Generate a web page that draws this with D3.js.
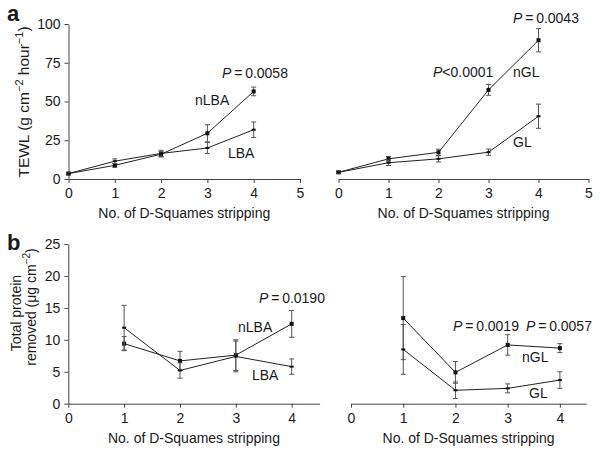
<!DOCTYPE html>
<html><head><meta charset="utf-8">
<script src="https://cdn.jsdelivr.net/npm/d3@7"></script>
<style>
body{margin:0;background:#fff;}
svg text{font-family:"Liberation Sans",Arial,Helvetica,sans-serif;fill:#1a1a1a;}
</style></head><body>
<svg id="c" width="600" height="453"></svg>
<script>
// ---- data ----
const xA = [0, 1, 2, 3, 4];
const nLBA_a = [3.5, 8.8, 16.0, 29.5, 56.5];
const nLBA_a_err = [0.8, 1.2, 1.8, 5.5, 2.8];
const LBA_a = [3.5, 11.5, 16.5, 20.0, 31.8];
const LBA_a_err = [0.8, 1.5, 2.0, 3.5, 5.0];
const nGL_a = [4.3, 13.0, 17.2, 57.5, 89.5];
const nGL_a_err = [0.8, 1.5, 2.0, 3.5, 7.5];
const GL_a = [4.3, 10.5, 13.0, 17.3, 40.5];
const GL_a_err = [0.8, 1.8, 2.0, 2.0, 7.8];

const xB = [1, 2, 3, 4];
const nLBA_b = [9.4, 6.7, 7.6, 12.5];
const nLBA_b_err = [1.1, 1.5, 2.4, 2.1];
const LBA_b = [11.9, 5.2, 7.4, 5.8];
const LBA_b_err = [3.5, 1.2, 2.4, 1.2];
const nGL_b = [13.4, 4.9, 9.2, 8.7];
const nGL_b_err = [6.5, 1.7, 1.6, 0.7];
const GL_b = [8.5, 2.1, 2.4, 3.7];
const GL_b_err = [3.9, 1.3, 0.7, 1.3];

const ticksA_x = [0, 1, 2, 3, 4, 5];
const ticksA_y = [0, 25, 50, 75, 100];
const ticksB_x = [0, 1, 2, 3, 4];
const ticksB_y = [0, 5, 10, 15, 20, 25];

const xLabel = "No. of D-Squames stripping";

// ---- drawing ----
const svg = d3.select("#c");
const AX = "#444", LINE = "#222", ERR = "#555";

function panel(opts) {
  const g = svg.append("g");
  const x = d3.scaleLinear().domain(opts.xDomain).range(opts.xRange);
  const y = d3.scaleLinear().domain(opts.yDomain).range(opts.yRange);
  const xa = g.append("g").attr("transform", `translate(0,${opts.yRange[0]})`)
    .call(d3.axisBottom(x).tickValues(opts.xTicks).tickSize(4).tickSizeOuter(0).tickPadding(5).tickFormat(d3.format("d")));
  xa.select(".domain").attr("stroke", AX);
  xa.selectAll(".tick line").attr("stroke", AX);
  xa.selectAll("text").style("font-size", "14px").attr("fill", "#1a1a1a");
  if (opts.yAxis) {
    const ya = g.append("g").attr("transform", `translate(${opts.xRange[0]},0)`)
      .call(d3.axisLeft(y).tickValues(opts.yTicks).tickSize(4).tickSizeOuter(0).tickPadding(4));
    ya.select(".domain").attr("stroke", AX);
    ya.selectAll(".tick line").attr("stroke", AX);
    ya.selectAll("text").style("font-size", "14px").attr("fill", "#1a1a1a");
  }
  g.append("text").attr("x", (opts.xRange[0] + opts.xRange[1]) / 2).attr("y", opts.yRange[0] + 39)
    .attr("text-anchor", "middle").style("font-size", "14px").text(xLabel);

  opts.series.forEach(s => {
    const pts = s.xs.map((xv, i) => ({x: xv, y: s.ys[i], e: s.err[i]}));
    const eb = g.append("g").attr("stroke", ERR).attr("stroke-width", 1);
    pts.forEach(p => {
      const cx = x(p.x);
      eb.append("line").attr("x1", cx).attr("x2", cx).attr("y1", y(p.y - p.e)).attr("y2", y(p.y + p.e));
      eb.append("line").attr("x1", cx - 2.5).attr("x2", cx + 2.5).attr("y1", y(p.y - p.e)).attr("y2", y(p.y - p.e));
      eb.append("line").attr("x1", cx - 2.5).attr("x2", cx + 2.5).attr("y1", y(p.y + p.e)).attr("y2", y(p.y + p.e));
    });
    g.append("path").datum(pts).attr("fill", "none").attr("stroke", LINE).attr("stroke-width", 1)
      .attr("d", d3.line().x(d => x(d.x)).y(d => y(d.y)));
    pts.forEach(p => {
      if (s.square) {
        g.append("rect").attr("x", x(p.x) - 2).attr("y", y(p.y) - 2).attr("width", 4).attr("height", 4).attr("fill", "#111");
      } else {
        g.append("rect").attr("x", x(p.x) - 2).attr("y", y(p.y) - 1).attr("width", 4).attr("height", 2).attr("fill", "#111");
      }
    });
  });

  opts.labels.forEach(l => {
    const t = g.append("text").attr("x", l.x).attr("y", l.y).style("font-size", "14px");
    if (l.p) {
      t.append("tspan").style("font-style", "italic").text("P");
      t.append("tspan").text(l.t);
    } else t.text(l.t);
  });
  return {x, y};
}

panel({
  xDomain: [0, 5], xRange: [68.5, 300], yDomain: [0, 100], yRange: [179, 24],
  xTicks: ticksA_x, yTicks: ticksA_y, yAxis: true,
  series: [
    {xs: xA, ys: nLBA_a, err: nLBA_a_err, square: true},
    {xs: xA, ys: LBA_a, err: LBA_a_err, square: false}
  ],
  labels: [
    {x: 222, y: 78, p: true, t: "\u2009=\u20090.0058"},
    {x: 195, y: 105, t: "nLBA"},
    {x: 228, y: 158, t: "LBA"}
  ]
});
panel({
  xDomain: [0, 5], xRange: [338.5, 588.5], yDomain: [0, 100], yRange: [179, 24],
  xTicks: ticksA_x, yAxis: false,
  series: [
    {xs: xA, ys: nGL_a, err: nGL_a_err, square: true},
    {xs: xA, ys: GL_a, err: GL_a_err, square: false}
  ],
  labels: [
    {x: 513, y: 23, p: true, t: "\u2009=\u20090.0043"},
    {x: 433, y: 77, p: true, t: "<0.0001"},
    {x: 513, y: 77, t: "nGL"},
    {x: 513, y: 147, t: "GL"}
  ]
});
panel({
  xDomain: [0, 4.5], xRange: [68.3, 319.6], yDomain: [0, 25], yRange: [403.7, 244],
  xTicks: ticksB_x, yTicks: ticksB_y, yAxis: true,
  series: [
    {xs: xB, ys: nLBA_b, err: nLBA_b_err, square: true},
    {xs: xB, ys: LBA_b, err: LBA_b_err, square: false}
  ],
  labels: [
    {x: 259, y: 303, p: true, t: "\u2009=\u20090.0190"},
    {x: 238, y: 332, t: "nLBA"},
    {x: 252, y: 380, t: "LBA"}
  ]
});
panel({
  xDomain: [0, 4.5], xRange: [351, 586], yDomain: [0, 25], yRange: [403.7, 244],
  xTicks: ticksB_x, yAxis: false,
  series: [
    {xs: xB, ys: nGL_b, err: nGL_b_err, square: true},
    {xs: xB, ys: GL_b, err: GL_b_err, square: false}
  ],
  labels: [
    {x: 453, y: 331, p: true, t: "\u2009=\u20090.0019"},
    {x: 526, y: 331, p: true, t: "\u2009=\u20090.0057"},
    {x: 522, y: 362, t: "nGL"},
    {x: 529, y: 398, t: "GL"}
  ]
});

// panel letters
svg.append("text").attr("x", 7).attr("y", 21).style("font-size", "22px").style("font-weight", "bold").text("a");
svg.append("text").attr("x", 7).attr("y", 250).style("font-size", "22px").style("font-weight", "bold").text("b");

// y-axis titles
const ya = svg.append("text").attr("transform", "translate(29,102) rotate(-90)").attr("text-anchor", "middle").style("font-size", "15.5px");
ya.append("tspan").text("TEWL (g cm");
ya.append("tspan").attr("dy", -6).style("font-size", "11px").text("\u22122");
ya.append("tspan").attr("dy", 6).text(" hour");
ya.append("tspan").attr("dy", -6).style("font-size", "11px").text("\u22121");
ya.append("tspan").attr("dy", 6).text(")");

const yb = svg.append("text").attr("transform", "translate(21,313) rotate(-90)").attr("text-anchor", "middle").style("font-size", "14px");
yb.text("Total protein");
const yb2 = svg.append("text").attr("transform", "translate(36,307) rotate(-90)").attr("text-anchor", "middle").style("font-size", "14px");
yb2.append("tspan").text("removed (\u03bcg cm");
yb2.append("tspan").attr("dy", -6).style("font-size", "10px").text("\u22122");
yb2.append("tspan").attr("dy", 6).text(")");
</script>
</body></html>
